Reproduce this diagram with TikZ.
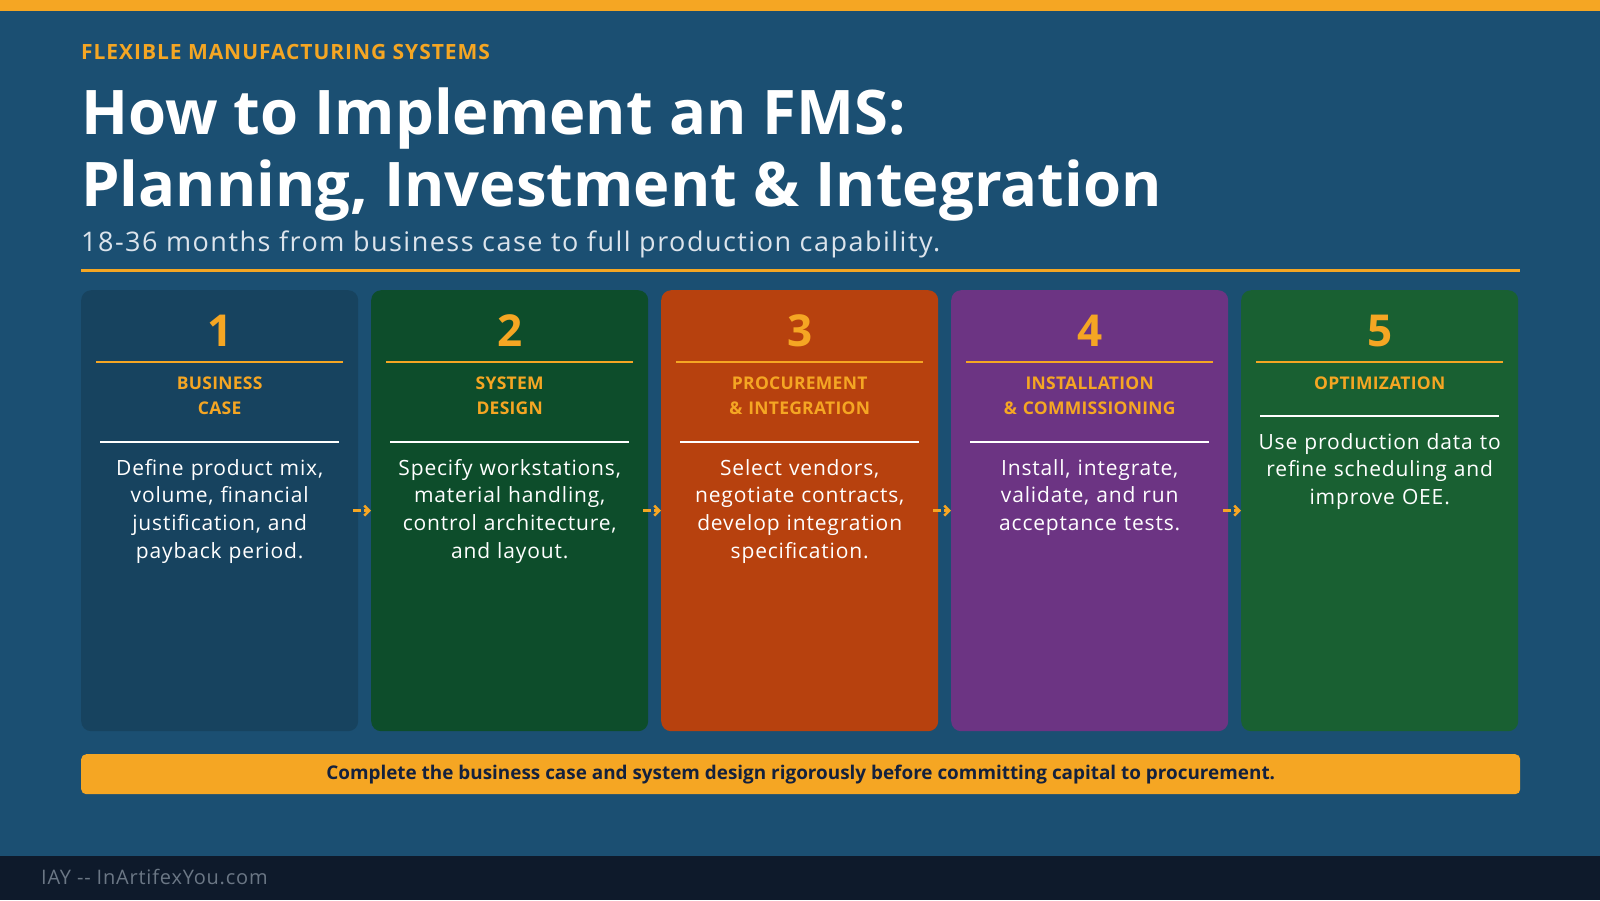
\documentclass[tikz,border=0pt]{standalone}
\usepackage{fontspec}
\setmainfont{Open Sans}
\usetikzlibrary{calc,arrows.meta}
\definecolor{bgblue}{HTML}{1B4F72}
\definecolor{accent}{HTML}{F5A623}
\definecolor{footbg}{HTML}{0E1A2B}
\definecolor{footgray}{HTML}{6B7785}
\definecolor{subgray}{HTML}{DCE4EC}
\definecolor{bannertext}{HTML}{14213D}
\definecolor{cardA}{HTML}{17435F}
\definecolor{cardB}{HTML}{0D4D2B}
\definecolor{cardC}{HTML}{B7410E}
\definecolor{cardD}{HTML}{6C3483}
\definecolor{cardE}{HTML}{196032}
\tikzset{
  cardbox/.style={anchor=north west, minimum width=277, minimum height=441, inner sep=0, rounded corners=10, draw=none},
  numtext/.style={anchor=base, inner sep=0, text=accent, font=\bfseries\fontsize{44}{48}\selectfont},
  labeltext/.style={anchor=base, inner sep=0, text=accent, text width=270, align=center, font=\bfseries\fontsize{17.5}{25.5}\selectfont\addfontfeature{LetterSpace=1.5}},
  bodytext/.style={anchor=base, inner sep=0, text=white, text width=270, align=center, font=\fontsize{21}{27.7}\selectfont\addfontfeature{LetterSpace=4}},
  orangerule/.style={draw=accent, line width=2},
  whiterule/.style={draw=white, line width=1.2},
  flowarrow/.style={draw=accent, line width=2.5, dash pattern=on 8pt off 3pt, -{Straight Barb[length=5pt,width=10pt]}},
}
\newcommand\fmscard[8]{%
  \node[cardbox, fill=#3] (#1) at (#2,290) {};
  \node[numtext] (#1num) at ($(#1.north)+(0,56)$) {#4};
  \draw[orangerule] ($(#1.north west)+(15,72)$) -- ($(#1.north east)+(-15,72)$);
  \node[labeltext] (#1lab) at ($(#1.north)+(0,99)$) {#5};
  \draw[whiterule] ($(#1.north west)+(19,#6)$) -- ($(#1.north east)+(-19,#6)$);
  \node[bodytext] (#1body) at ($(#1.north)+(0,#7)$) {#8};
}
\begin{document}
\begin{tikzpicture}[x=1pt,y=-1pt]
\fill[bgblue] (0,0) rectangle (1600,900);
\useasboundingbox (0,0) rectangle (1600,900);
\fill[accent] (0,0) rectangle (1600,11);
\fill[footbg] (0,856) rectangle (1600,900);

\node[anchor=base west, inner sep=0, text=accent, font=\bfseries\fontsize{21}{24}\selectfont\addfontfeature{LetterSpace=4.5}] (kicker) at (81,59) {FLEXIBLE MANUFACTURING SYSTEMS};
\node[anchor=base west, inner sep=0, text=white, font=\bfseries\fontsize{61.5}{70}\selectfont] (title1) at (81,134) {How to Implement an FMS:};
\node[anchor=base west, inner sep=0, text=white, font=\bfseries\fontsize{61.5}{70}\selectfont] (title2) at (81,206) {Planning, Investment \& Integration};
\node[anchor=base west, inner sep=0, text=subgray, font=\fontsize{27}{30}\selectfont\addfontfeature{LetterSpace=5.5}] (subtitle) at (81,251) {18-36 months from business case to full production capability.};
\draw[accent, line width=3] (81,270) -- (1520,270);

\fmscard{c1}{81}{cardA}{1}{BUSINESS\\CASE}{152}{185}{Define product mix,\\volume, financial\\justification, and\\payback period.}
\fmscard{c2}{371}{cardB}{2}{SYSTEM\\DESIGN}{152}{185}{Specify workstations,\\material handling,\\control architecture,\\and layout.}
\fmscard{c3}{661}{cardC}{3}{PROCUREMENT\\\& INTEGRATION}{152}{185}{Select vendors,\\negotiate contracts,\\develop integration\\specification.}
\fmscard{c4}{951}{cardD}{4}{INSTALLATION\\\& COMMISSIONING}{152}{185}{Install, integrate,\\validate, and run\\acceptance tests.}
\fmscard{c5}{1241}{cardE}{5}{OPTIMIZATION}{126}{159}{Use production data to\\refine scheduling and\\improve OEE.}

\foreach \a/\b in {c1/c2,c2/c3,c3/c4,c4/c5}
  \draw[flowarrow] ($(\a.east)+(-5,0)$) -- (\b.west);

\node[anchor=north west, fill=accent, rounded corners=5, minimum width=1439, minimum height=40, inner sep=0] (banner) at (81,754) {};
\node[text=bannertext, inner sep=0, font=\bfseries\fontsize{18.9}{22}\selectfont] (bannertxt) at (banner.center) {Complete the business case and system design rigorously before committing capital to procurement.};

\node[anchor=base west, inner sep=0, text=footgray, font=\fontsize{20}{22}\selectfont\addfontfeature{LetterSpace=4}] (footer) at (41,884) {IAY {-}{-} InArtifexYou.com};
\end{tikzpicture}
\end{document}
